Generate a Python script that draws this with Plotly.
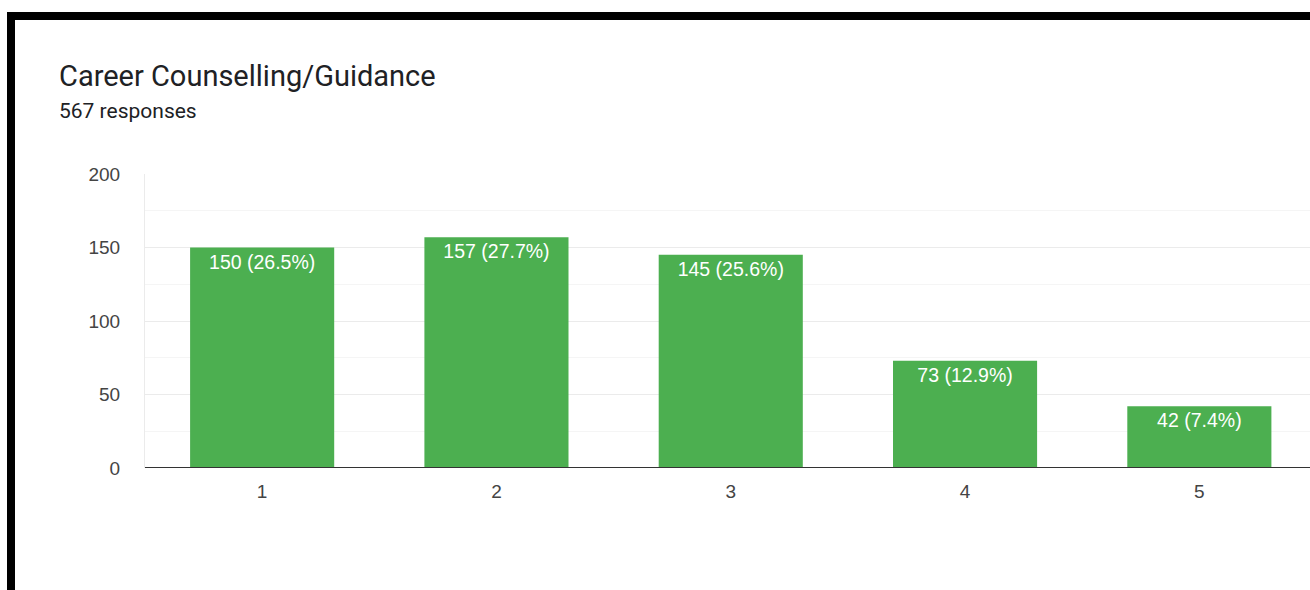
import plotly.graph_objects as go

categories = ["1", "2", "3", "4", "5"]
counts = [150, 157, 145, 73, 42]
percents = ["26.5%", "27.7%", "25.6%", "12.9%", "7.4%"]
title_text = "Career Counselling/Guidance"
subtitle_text = "567 responses"
y_ticks = [0, 50, 100, 150, 200]

labels = [f"{c} ({p})" for c, p in zip(counts, percents)]
xpos = list(range(len(categories)))

W, H = 1310, 590
L, R, T, B = 145, 0, 174, 590 - 468
pw, ph = W - L - R, H - T - B

def px_x(px):
    return (px - L) / pw

def px_y(py):
    return (H - B - py) / ph

fig = go.Figure(go.Bar(
    x=xpos, y=counts, text=labels, width=0.615,
    marker=dict(color="#4caf50", line=dict(width=0)),
    textposition="inside", insidetextanchor="end", textangle=0,
    constraintext="none",
    textfont=dict(color="white", size=19.5, family="Liberation Sans, Arial"),
    hoverinfo="skip",
))

band = pw / 234.3
fig.update_layout(
    width=W, height=H,
    margin=dict(l=L, r=R, t=T, b=B, pad=0),
    paper_bgcolor="white", plot_bgcolor="white",
    showlegend=False,
    font=dict(family="Liberation Sans, Arial", color="#444"),
    xaxis=dict(
        range=[-0.5, -0.5 + band], tickmode="array", tickvals=xpos,
        ticktext=categories, showgrid=False, zeroline=False, showline=False,
        tickfont=dict(size=19, color="#444"), ticks="", ticklabelstandoff=10,
        fixedrange=True,
    ),
    yaxis=dict(
        range=[0, 200], tickvals=y_ticks, showgrid=True, gridcolor="#ebebeb",
        gridwidth=1, zeroline=False, showline=True, linecolor="#ebebeb",
        linewidth=1, ticks="", tickfont=dict(size=19, color="#444"),
        ticklabelstandoff=20,
        minor=dict(dtick=25, showgrid=True, gridcolor="#f5f5f5", gridwidth=1),
        fixedrange=True,
    ),
    shapes=[
        dict(type="line", xref="paper", yref="y", x0=0, x1=1, y0=0, y1=0,
             line=dict(color="#333", width=2), layer="above"),
        dict(type="rect", xref="paper", yref="paper",
             x0=px_x(7), x1=px_x(1320), y0=px_y(20), y1=px_y(12),
             fillcolor="black", line=dict(width=0)),
        dict(type="rect", xref="paper", yref="paper",
             x0=px_x(7), x1=px_x(15), y0=px_y(600), y1=px_y(12),
             fillcolor="black", line=dict(width=0)),
    ],
    annotations=[
        dict(text=title_text, xref="paper", yref="paper",
             x=px_x(57), y=px_y(76), xanchor="left", yanchor="middle",
             showarrow=False, font=dict(size=29, color="#202124", family="Roboto")),
        dict(text=subtitle_text, xref="paper", yref="paper",
             x=px_x(57), y=px_y(111), xanchor="left", yanchor="middle",
             showarrow=False, font=dict(size=21, color="#202124", family="Roboto")),
    ],
)

fig.write_html(
    "out.html",
    config={"displayModeBar": False},
    post_script="document.body.style.margin='0';document.body.style.overflow='hidden';",
)
